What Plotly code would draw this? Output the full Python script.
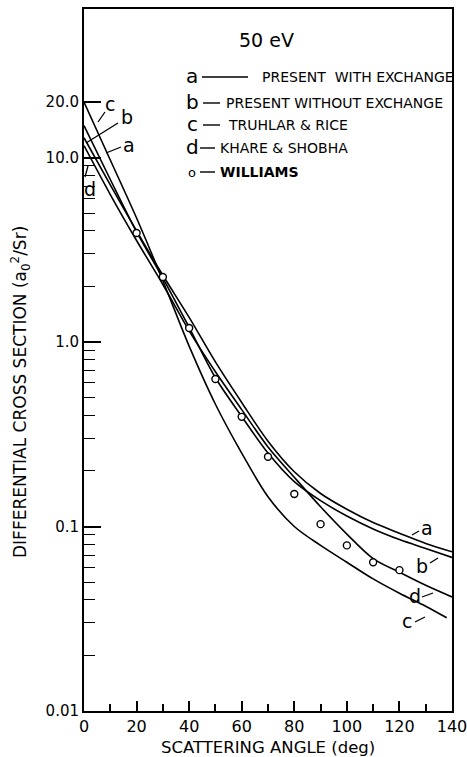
import plotly.graph_objects as go

# ---------------- data ----------------
angles = [0, 10, 20, 30, 40, 50, 60, 70, 80, 90, 100, 110, 120, 130, 140]
a_vals = [12.8, 7.1, 4.0, 2.3, 1.36, 0.78, 0.47, 0.29, 0.198, 0.151, 0.124, 0.105, 0.092, 0.081, 0.073]
b_vals = [14.9, 7.6, 3.95, 2.22, 1.2, 0.64, 0.395, 0.25, 0.175, 0.138, 0.114, 0.097, 0.085, 0.076, 0.068]
d_vals = [11.6, 6.3, 3.55, 2.05, 1.15, 0.69, 0.43, 0.27, 0.185, 0.128, 0.091, 0.067, 0.0565, 0.048, 0.0415]
c_angles = [0, 10, 20, 30, 40, 50, 60, 70, 80, 90, 100, 110, 120, 130, 138]
c_vals = [20.0, 9.7, 4.7, 2.15, 0.95, 0.46, 0.25, 0.145, 0.1, 0.079, 0.064, 0.052, 0.0435, 0.037, 0.032]
w_angles = [20, 30, 40, 50, 60, 70, 80, 90, 100, 110, 120]
w_vals = [3.9, 2.25, 1.19, 0.63, 0.393, 0.239, 0.150, 0.103, 0.079, 0.064, 0.058]

x_major = [0, 20, 40, 60, 80, 100, 120, 140]
x_minor = [10, 30, 50, 70, 90, 110, 130]
y_major = [0.01, 0.1, 1, 10, 20]
y_major_text = ["0.01", "0.1", "1.0", "10.0", "20.0"]
y_minor = [0.02, 0.03, 0.04, 0.05, 0.06, 0.07, 0.08, 0.09,
           0.2, 0.3, 0.4, 0.5, 0.6, 0.7, 0.8, 0.9,
           2, 3, 4, 5, 6, 7, 8, 9]

legend_letters = ["a", "b", "c", "d", "o"]
legend_texts = ["PRESENT  WITH EXCHANGE", "PRESENT WITHOUT EXCHANGE",
                "TRUHLAR &amp; RICE", "KHARE &amp; SHOBHA", "<b>WILLIAMS</b>"]

# ---------------- layout geometry (pixels) ----------------
W, H = 467, 757
L, R, T, B = 84, 452, 9, 711
FONT = "DejaVu Sans"


def px(x):
    return (x - L) / (R - L)


def py(y):
    return (B - y) / (B - T)


def note(text, x, y, size, xanchor="center", angle=0):
    return dict(text=text, x=px(x), y=py(y), xref="paper", yref="paper",
                xanchor=xanchor, yanchor="middle", showarrow=False, textangle=angle,
                font=dict(size=size, family=FONT, color="black"))


fig = go.Figure()
line_style = dict(color="black", width=1.6, shape="spline", smoothing=0.9)
for xs, ys in [(angles, a_vals), (angles, b_vals), (angles, d_vals), (c_angles, c_vals)]:
    fig.add_trace(go.Scatter(x=xs, y=ys, mode="lines", line=line_style,
                             showlegend=False, hoverinfo="skip"))
fig.add_trace(go.Scatter(x=w_angles, y=w_vals, mode="markers",
                         marker=dict(symbol="circle", size=7, color="white",
                                     line=dict(color="black", width=1.4)),
                         showlegend=False))

annotations = []
shapes = []

annotations.append(note("50 eV", 266, 40, 19))

rows_y = [77, 103, 125, 148, 172]
dash_spans = [(202, 248), (203, 220), (203, 220), (200, 215), (200, 215)]
text_x = [260, 224, 226, 218, 218]
for i, letter in enumerate(legend_letters):
    ry = rows_y[i]
    if letter == "o":
        annotations.append(note("o", 192, ry, 13))
    else:
        annotations.append(note(letter, 192, ry - 1, 20))
    x0, x1 = dash_spans[i]
    shapes.append(dict(type="line", xref="paper", yref="paper", x0=px(x0), x1=px(x1),
                       y0=py(ry), y1=py(ry), line=dict(color="black", width=1.4)))
    annotations.append(note(legend_texts[i], text_x[i], ry, 14, xanchor="left"))

curve_labels = [
    ("a", 427, 528), ("b", 422, 566), ("d", 415, 596), ("c", 407, 621),
    ("c", 110, 104), ("b", 127, 117), ("a", 129, 145), ("d", 90, 189),
]
for t, x, y in curve_labels:
    annotations.append(note(t, x, y, 19))
leaders = [
    (412, 535, 419, 531), (430, 563, 438, 558), (422, 597, 433, 593), (415, 622, 425, 617),
    (98, 122, 105, 112), (86, 143, 118, 123), (106, 153, 121, 147), (85, 177, 88, 166),
]
for x0, y0, x1, y1 in leaders:
    shapes.append(dict(type="line", xref="paper", yref="paper", x0=px(x0), y0=py(y0),
                       x1=px(x1), y1=py(y1), line=dict(color="black", width=1.3)))

annotations.append(note("DIFFERENTIAL CROSS SECTION (a<sub>0</sub><sup>2</sup>/Sr)",
                        20, 392, 17, angle=-90))
annotations.append(note("SCATTERING ANGLE (deg)", 268, 747, 16.5))

fig.update_layout(
    width=W, height=H,
    margin=dict(l=L, r=W - R, t=T, b=H - B),
    paper_bgcolor="white", plot_bgcolor="white",
    font=dict(family=FONT, color="black"),
    annotations=annotations, shapes=shapes,
    xaxis=dict(range=[0, 140], tickmode="array", tickvals=x_major, automargin=False,
               ticklabeloverflow="allow",
               ticks="inside", ticklen=10, tickwidth=1.5, tickcolor="black",
               minor=dict(tickmode="array", tickvals=x_minor, ticks="inside",
                          ticklen=7, tickwidth=1.5, tickcolor="black"),
               showline=True, linecolor="black", linewidth=2, mirror=True,
               showgrid=False, zeroline=False,
               tickfont=dict(size=16, family=FONT, color="black")),
    yaxis=dict(type="log", range=[-2, 1.805], tickmode="array", tickvals=y_major,
               ticktext=y_major_text, automargin=False, ticklabeloverflow="allow",
               ticks="inside", ticklen=17,
               tickwidth=1.5, tickcolor="black",
               minor=dict(tickmode="array", tickvals=y_minor, ticks="inside",
                          ticklen=11, tickwidth=1.3, tickcolor="black", showgrid=False),
               showline=True, linecolor="black", linewidth=2, mirror=True,
               showgrid=False, zeroline=False,
               tickfont=dict(size=15, family=FONT, color="black")),
)

fig.write_html("out.html")
